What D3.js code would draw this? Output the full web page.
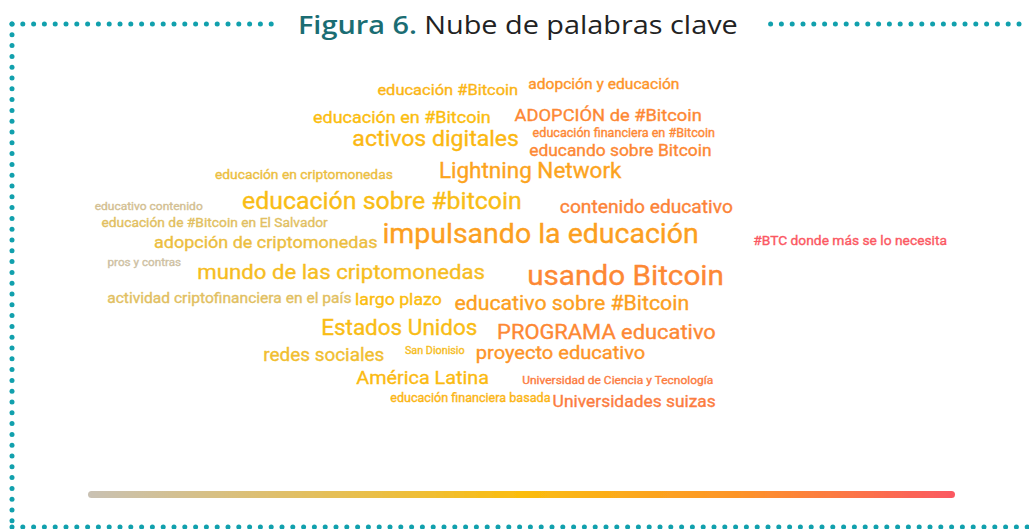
<!DOCTYPE html>
<html lang="es">
<head>
<meta charset="utf-8">
<script src="https://d3js.org/d3.v7.min.js"></script>
<style>
  body { margin: 0; background: #fff; }
  .word { font-family: Roboto, sans-serif; stroke-width: 0.35px; }
  .title { font-family: "Open Sans", sans-serif; font-size: 25px; }
</style>
</head>
<body>
<svg width="1029" height="529"></svg>
<script>
  // keywords, their weight (drives font size) and tone (drives colour)
  const words = [
    'educación #Bitcoin', 'adopción y educación', 'educación en #Bitcoin', 'ADOPCIÓN de #Bitcoin',
    'activos digitales', 'educación financiera en #Bitcoin', 'educando sobre Bitcoin', 'Lightning Network',
    'educación en criptomonedas', 'educación sobre #bitcoin', 'contenido educativo', 'educativo contenido',
    'educación de #Bitcoin en El Salvador', 'adopción de criptomonedas', 'impulsando la educación',
    '#BTC donde más se lo necesita', 'pros y contras', 'mundo de las criptomonedas', 'usando Bitcoin',
    'actividad criptofinanciera en el país', 'largo plazo', 'educativo sobre #Bitcoin', 'Estados Unidos',
    'PROGRAMA educativo', 'redes sociales', 'San Dionisio', 'proyecto educativo', 'América Latina',
    'Universidad de Ciencia y Tecnología', 'educación financiera basada', 'Universidades suizas'
  ];
  const weights = [55, 52, 60, 61, 77, 42, 58, 75, 46, 83, 64, 40, 46, 60, 95, 46,
                   39, 74, 99, 52, 59, 71, 75, 73, 63, 36, 67, 66, 40, 42, 58];
  const tones = [0.55, 0.75, 0.5, 0.8, 0.53, 0.8, 0.8, 0.65, 0.35, 0.48, 0.82, 0.1,
                 0.25, 0.35, 0.68, 1.0, 0.05, 0.45, 0.8, 0.25, 0.5, 0.68, 0.48, 0.8,
                 0.4, 0.45, 0.75, 0.52, 0.85, 0.55, 0.85];
  // cloud layout, in percent of the cloud box
  const posX = [41.5, 59.5, 36.2, 60.0, 40.1, 61.8, 61.4, 51.0, 24.9, 33.9, 64.4, 7.0,
                14.6, 20.5, 52.2, 87.9, 6.5, 29.2, 62.0, 16.3, 35.8, 55.8, 35.9, 59.8,
                27.2, 40.0, 54.5, 38.6, 61.1, 44.1, 63.0];
  const posY = [8.3, 6.7, 15.8, 15.3, 21.7, 20.3, 25.0, 30.8, 31.9, 39.2, 40.8, 40.6,
                45.3, 50.6, 48.3, 50.3, 56.1, 58.9, 59.7, 66.1, 66.4, 67.5, 74.4, 75.6,
                81.9, 80.8, 81.4, 88.3, 88.9, 93.9, 94.7];

  const toneStops = [0, 0.5, 0.75, 1];
  const toneColors = ['#c9c1b3', '#fbbd0f', '#fd9428', '#fb5862'];

  const svg = d3.select('svg');
  const width = +svg.attr('width');
  const height = +svg.attr('height');
  const cloud = { left: 88, right: 955, top: 60, bottom: 420 };
  const stretch = 1.06;

  const xScale = d3.scaleLinear().domain([0, 100]).range([cloud.left, cloud.right]);
  const yScale = d3.scaleLinear().domain([0, 100]).range([cloud.top, cloud.bottom]);
  const sizeScale = d3.scaleLinear().domain([0, 100]).range([0, 25 * 1.2 / stretch]);
  const colorScale = d3.scaleLinear().domain(toneStops).range(toneColors);

  svg.append('rect').attr('width', width).attr('height', height).attr('fill', '#fff');

  // dotted frame
  const dotColor = '#11a0ad';
  const dots = [];
  d3.range(12, 272, 10.8).forEach(x => dots.push([x, 24]));
  d3.range(1019, 762, -10.8).forEach(x => dots.push([x, 24]));
  d3.range(24, 530, 10.8).forEach(y => dots.push([12, y]));
  d3.range(12, 1030, 10.8).forEach(x => dots.push([x, 527]));
  svg.append('g').selectAll('circle').data(dots)
    .join('circle')
      .attr('cx', d => d[0])
      .attr('cy', d => d[1])
      .attr('r', 2.5)
      .attr('fill', dotColor);

  // title
  const title = svg.append('text')
    .attr('class', 'title')
    .attr('x', 0)
    .attr('y', 0);
  title.append('tspan').attr('font-weight', 600).attr('fill', '#1b6d73').text('Figura 6.');
  title.append('tspan').attr('fill', '#222').text(' Nube de palabras clave');
  const tw = title.node().getComputedTextLength();
  const tsx = 440 / tw;
  title.attr('transform', `translate(${518 - 220},34) scale(${tsx},1)`);

  // words
  svg.append('g').selectAll('text').data(words)
    .join('text')
      .attr('class', 'word')
      .attr('text-anchor', 'middle')
      .attr('dominant-baseline', 'central')
      .attr('transform', (d, i) => `translate(${xScale(posX[i])},${yScale(posY[i])}) scale(${stretch},1)`)
      .attr('font-size', (d, i) => sizeScale(weights[i]))
      .attr('fill', (d, i) => colorScale(tones[i]))
      .attr('stroke', (d, i) => colorScale(tones[i]))
      .text(d => d);

  // colour legend bar
  const defs = svg.append('defs');
  const grad = defs.append('linearGradient').attr('id', 'toneGrad');
  grad.selectAll('stop').data(d3.range(0, 1.0001, 0.05))
    .join('stop')
      .attr('offset', d => d)
      .attr('stop-color', d => colorScale(d));
  defs.append('filter').attr('id', 'soft')
    .append('feGaussianBlur').attr('stdDeviation', 0.7);

  svg.append('rect')
    .attr('x', cloud.left)
    .attr('y', 491)
    .attr('width', cloud.right - cloud.left)
    .attr('height', 7)
    .attr('rx', 3.5)
    .attr('fill', 'url(#toneGrad)')
    .attr('filter', 'url(#soft)');
</script>
</body>
</html>
